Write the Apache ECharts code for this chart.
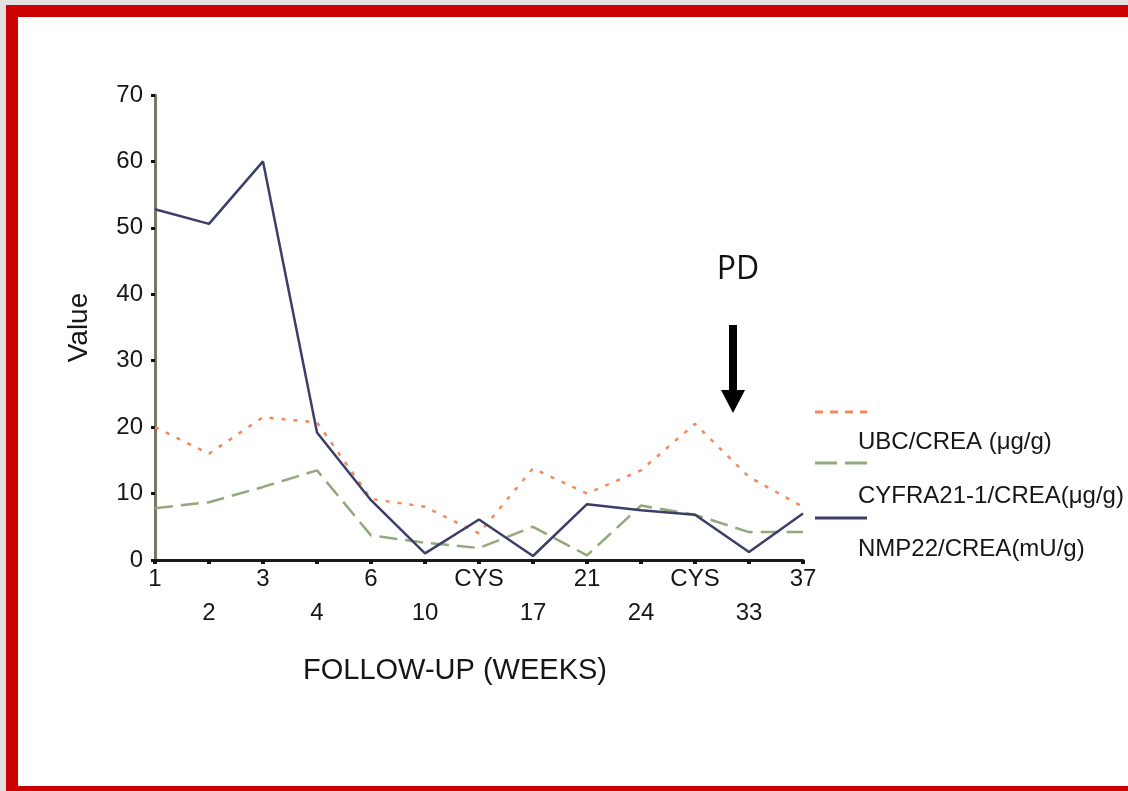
<!DOCTYPE html>
<html>
<head>
<meta charset="utf-8">
<script src="https://cdn.jsdelivr.net/npm/echarts@6/dist/echarts.min.js"></script>
<style>
  html, body { margin: 0; padding: 0; background: #ffffff; }
  #chart { position: absolute; left: 0; top: 0; width: 1128px; height: 791px; background: #ffffff; }
  .strip { position: absolute; pointer-events: none; }
</style>
</head>
<body>
<div id="chart"></div>
<div class="strip" style="left:0;top:0;width:6px;height:791px;background:#e0e0e0"></div>
<div class="strip" style="left:0;top:0;width:1128px;height:5px;background:#e0e0e0"></div>
<div class="strip" style="left:6px;top:5px;width:12px;height:786px;background:#cc0000"></div>
<div class="strip" style="left:6px;top:5px;width:1122px;height:12px;background:#cc0000"></div>
<div class="strip" style="left:6px;top:786px;width:1122px;height:5px;background:#cc0000"></div>
<script>
// ---- data ----
var categories = ['1', '2', '3', '4', '6', '10', 'CYS', '17', '21', '24', 'CYS', '33', '37'];
var seriesNames = ['UBC/CREA (\u03bcg/g)', 'CYFRA21-1/CREA(\u03bcg/g)', 'NMP22/CREA(mU/g)'];
var ubcValues   = [20, 16, 21.5, 20.7, 9.2, 8, 4, 13.8, 10, 13.5, 20.5, 12.5, 8];
var cyfraValues = [7.8, 8.7, 11, 13.5, 3.7, 2.6, 1.8, 5, 0.7, 8.2, 6.8, 4.2, 4.2];
var nmpValues   = [52.8, 50.6, 60, 19.2, 9, 1, 6.1, 0.6, 8.4, 7.5, 6.8, 1.2, 7.0];
var yTicks = [0, 10, 20, 30, 40, 50, 60, 70];
var xAxisTitle = 'FOLLOW-UP (WEEKS)';
var yAxisTitle = 'Value';
var annotationText = 'PD';

var colors = ['#f08a5d', '#93a87c', '#3b3f68'];
var dashes = [[4, 8], [18, 8], 'solid'];
var legendDashes = [[8, 7], [22, 8], 'solid'];
var font = '"Liberation Sans", Arial, sans-serif';
var textColor = '#161616';

var chart = echarts.init(document.getElementById('chart'));

var legendGraphics = [];
var legendLineY = [412, 463, 518];
var legendTextY = [442, 496, 549];
seriesNames.forEach(function (n, i) {
  legendGraphics.push({
    type: 'line', shape: { x1: 815, y1: legendLineY[i], x2: 867, y2: legendLineY[i] },
    style: { stroke: colors[i], lineWidth: 3, lineDash: legendDashes[i] === 'solid' ? null : legendDashes[i] }
  });
  legendGraphics.push({
    type: 'text', x: 858, y: legendTextY[i],
    style: { text: n, font: '24px ' + font, fill: textColor, textVerticalAlign: 'middle', verticalAlign: 'middle' }
  });
});

var option = {
  backgroundColor: '#ffffff',
  animation: false,
  grid: { left: 155, right: 325, top: 95, bottom: 231, containLabel: false },
  xAxis: {
    type: 'category',
    data: categories,
    boundaryGap: false,
    name: xAxisTitle,
    nameLocation: 'middle',
    nameGap: 96,
    nameTextStyle: { fontFamily: font, fontSize: 29, color: textColor, padding: [0, 48, 0, 0] },
    axisLine: { lineStyle: { color: '#1a1a1a', width: 3 } },
    axisTick: { show: true, alignWithLabel: true, length: 4, lineStyle: { color: '#111', width: 4 } },
    axisLabel: {
      interval: 0, margin: 2, fontFamily: font, fontSize: 24, color: textColor, lineHeight: 34,
      formatter: function (v, i) { return i % 2 === 1 ? '\n' + v : v; }
    },
    splitLine: { show: false }
  },
  yAxis: {
    type: 'value',
    min: 0, max: 70, interval: 10,
    name: yAxisTitle,
    nameLocation: 'middle',
    nameGap: 62,
    nameRotate: 90,
    nameTextStyle: { fontFamily: font, fontSize: 28, color: textColor },
    axisLine: { show: true, lineStyle: { color: '#7a7564', width: 3 } },
    axisTick: { show: true, length: 4, lineStyle: { color: '#111', width: 3 } },
    axisLabel: {
      margin: 12, fontFamily: font, fontSize: 24, color: textColor,
      formatter: function (v) { return yTicks.indexOf(v) >= 0 ? String(v) : ''; }
    },
    splitLine: { show: false }
  },
  series: [
    { name: seriesNames[0], type: 'line', data: ubcValues, symbol: 'none', z: 2,
      lineStyle: { color: colors[0], width: 2.5, type: dashes[0] } },
    { name: seriesNames[1], type: 'line', data: cyfraValues, symbol: 'none', z: 3,
      lineStyle: { color: colors[1], width: 2.5, type: dashes[1] } },
    { name: seriesNames[2], type: 'line', data: nmpValues, symbol: 'none', z: 4,
      lineStyle: { color: colors[2], width: 2.5, type: dashes[2] } }
  ],
  graphic: legendGraphics.concat([
    { type: 'text', x: 738, y: 270,
      style: { text: annotationText, font: '32px "Open Sans", "Noto Sans", sans-serif', fill: '#111',
               align: 'center', verticalAlign: 'middle', textAlign: 'center', textVerticalAlign: 'middle' } },
    { type: 'rect', shape: { x: 729, y: 325, width: 8, height: 68 }, style: { fill: '#000' } },
    { type: 'polygon', shape: { points: [[721, 390], [745, 390], [733, 413]] }, style: { fill: '#000' } }
  ])
};
chart.setOption(option);
</script>
</body>
</html>
